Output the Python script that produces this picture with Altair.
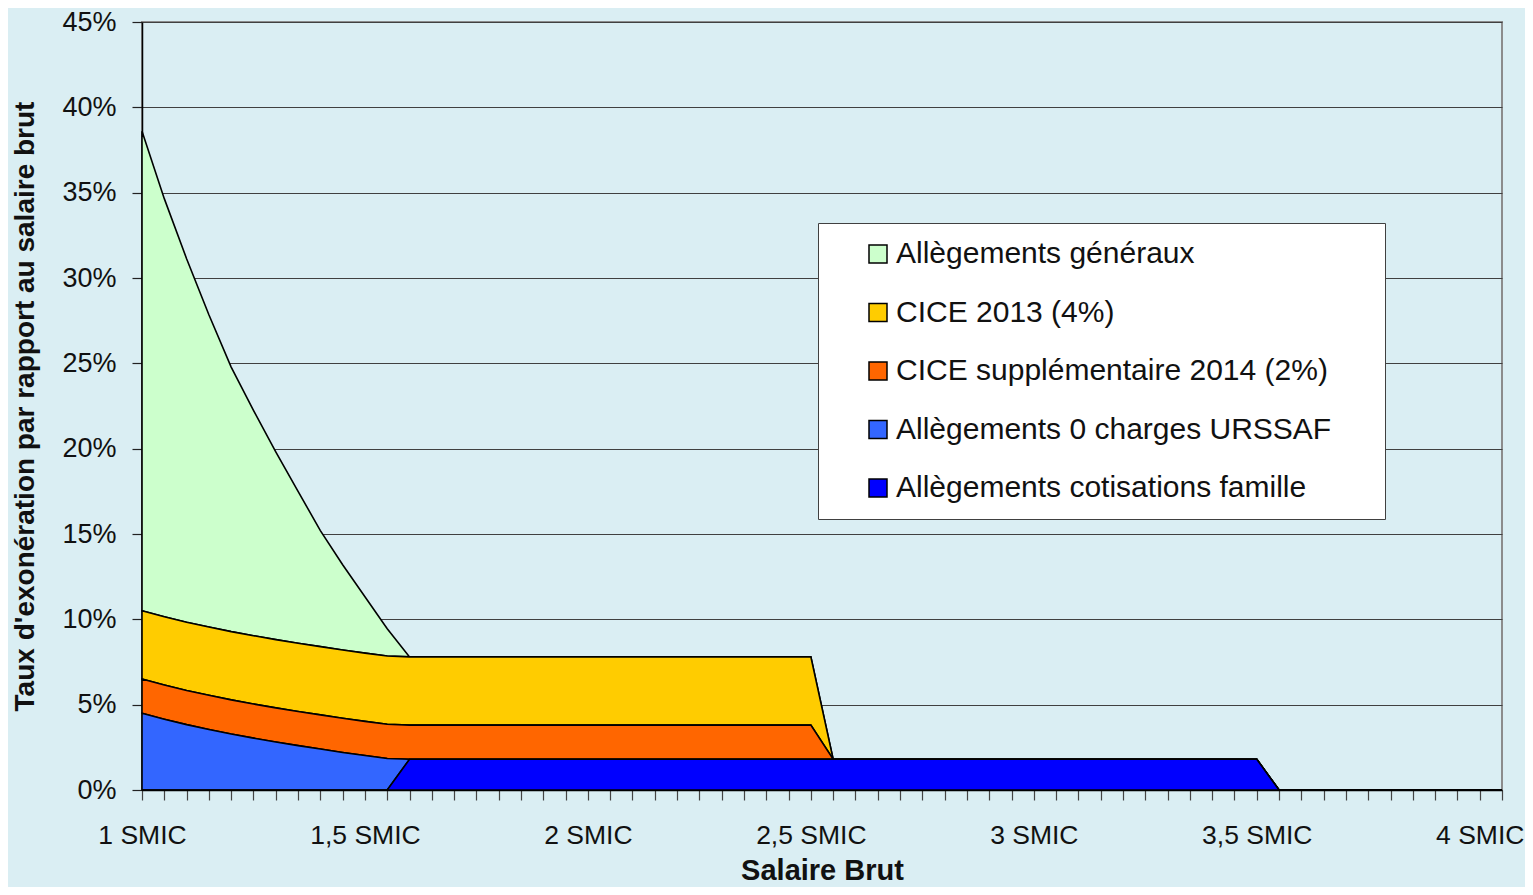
import altair as alt
import pandas as pd

# Salaire brut, en multiples du SMIC (catégories de l'axe)
salaire = [1.00, 1.05, 1.10, 1.15, 1.20, 1.25, 1.30, 1.35, 1.40, 1.45,
           1.50, 1.55, 1.60, 1.65, 1.70, 1.75, 1.80, 1.85, 1.90, 1.95,
           2.00, 2.05, 2.10, 2.15, 2.20, 2.25, 2.30, 2.35, 2.40, 2.45,
           2.50, 2.55, 2.60, 2.65, 2.70, 2.75, 2.80, 2.85, 2.90, 2.95,
           3.00, 3.05, 3.10, 3.15, 3.20, 3.25, 3.30, 3.35, 3.40, 3.45,
           3.50, 3.55, 3.60, 3.65, 3.70, 3.75, 3.80, 3.85, 3.90, 3.95,
           4.00, 4.05]

# Taux d'exonération (% du salaire brut)
generaux = [28.1, 24.5, 21.3, 18.3, 15.5, 13.2, 11.0, 8.9, 6.8, 5.0, 3.3, 1.6] + [0.0] * 50
cice_2013 = [4.0] * 31 + [0.0] * 31
cice_2014 = [2.0] * 31 + [0.0] * 31
urssaf = [4.5, 4.15, 3.83, 3.55, 3.28, 3.04, 2.81, 2.60, 2.40, 2.20, 2.02, 1.85] + [0.0] * 50
famille = [0.0] * 12 + [1.8] * 39 + [0.0] * 11

noms = ["Allègements généraux", "CICE 2013 (4%)", "CICE supplémentaire 2014 (2%)",
        "Allègements 0 charges URSSAF", "Allègements cotisations famille"]
couleurs = ["#CCFFCC", "#FFCC00", "#FF6600", "#3366FF", "#0000FF"]
rangs = [4, 3, 2, 1, 0]  # ordre d'empilement (0 = en bas)
series = [generaux, cice_2013, cice_2014, urssaf, famille]

y_ticks = [0, 5, 10, 15, 20, 25, 30, 35, 40, 45]

rows = []
for nom, rang, vals in zip(noms, rangs, series):
    for s, v in zip(salaire, vals):
        rows.append({"salaire": s, "taux": v, "dispositif": nom, "rang": rang})
df = pd.DataFrame(rows)

FONT = "Liberation Sans"

x_label = ("abs(datum.value * 2 - round(datum.value * 2)) < 0.001 ? "
           "replace(format(datum.value, '.2~f'), '.', ',') + ' SMIC' : ''")

chart = alt.Chart(df).mark_area(
    stroke="black", strokeWidth=1.6, interpolate="linear", opacity=1
).encode(
    x=alt.X("salaire:Q",
            scale=alt.Scale(domain=[1, 4.05], nice=False, zero=False),
            axis=alt.Axis(values=salaire, labelExpr=x_label, title="Salaire Brut",
                          grid=False, labelOverlap=False, labelFlush=False, labelBound=False,
                          tickSize=10, tickColor="#444444", tickWidth=1.2,
                          domainColor="black", domainWidth=1.5,
                          labelFont=FONT, labelFontSize=26.5, labelColor="#111111",
                          labelBaseline="alphabetic", labelPadding=43,
                          titleFont=FONT, titleFontSize=29, titleFontWeight="bold",
                          titleColor="#111111", titleX=680, titleY=89,
                          titleAlign="center", titleBaseline="alphabetic")),
    y=alt.Y("taux:Q", stack="zero",
            scale=alt.Scale(domain=[0, 45], nice=False),
            axis=alt.Axis(values=y_ticks, labelExpr="datum.value + '%'",
                          title="Taux d'exonération par rapport au salaire brut",
                          grid=True, gridColor="#404040", gridWidth=1.2,
                          tickSize=10, tickColor="#222222", tickWidth=1.2,
                          domainColor="black", domainWidth=1.5,
                          labelFont=FONT, labelFontSize=27, labelColor="#111111",
                          labelPadding=16,
                          titleFont=FONT, titleFontSize=28, titleFontWeight="bold",
                          titleColor="#111111", titleX=-117, titleY=384,
                          titleAngle=270, titleAlign="center", titleBaseline="middle")),
    color=alt.Color("dispositif:N",
                    scale=alt.Scale(domain=noms, range=couleurs),
                    legend=alt.Legend(title="\u00a0", titleOrient="right", titlePadding=38,
                                      titleFontSize=4,
                                      orient="none", legendX=676, legendY=201,
                                      direction="vertical", fillColor="white",
                                      strokeColor="#404040", padding=16,
                                      symbolType="square", symbolSize=324,
                                      symbolStrokeColor="black", symbolStrokeWidth=1.5,
                                      symbolOpacity=1, symbolOffset=29,
                                      labelFont=FONT, labelFontSize=30, labelColor="#111111",
                                      labelOffset=3, rowPadding=28.5, labelLimit=800)),
    order=alt.Order("rang:Q", sort="ascending"),
).properties(
    width=1360, height=768,
    autosize=alt.AutoSizeParams(type="none"),
    padding={"left": 134, "top": 14, "right": 23, "bottom": 97},
    background="#DAEEF3",
).configure_view(
    stroke="#8c8c8c", strokeWidth=2
)

chart.save("out.html", embed_options={"renderer": "svg", "actions": False})
